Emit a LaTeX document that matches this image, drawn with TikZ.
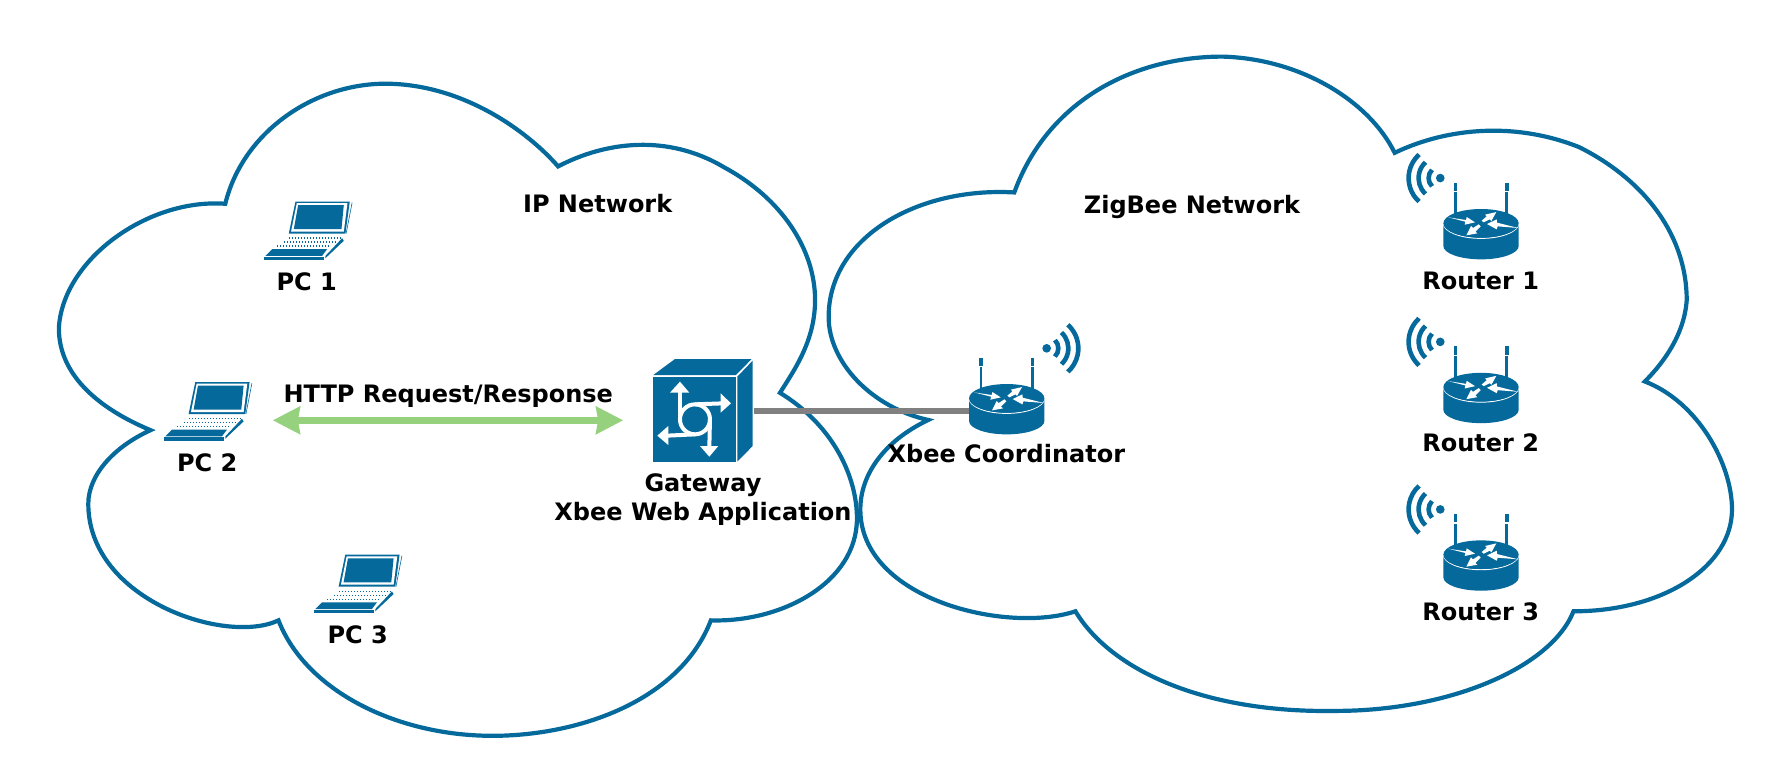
\documentclass[tikz,border=0pt]{standalone}
\usepackage{fontspec}
\setmainfont{DejaVu Sans}
\usetikzlibrary{arrows.meta,calc}
\definecolor{ciscoblue}{HTML}{056A9B}
\definecolor{linkgreen}{HTML}{96D17E}
\definecolor{linkgray}{HTML}{808080}
\tikzset{
  cloudline/.style={draw=ciscoblue,line width=2.1pt,line join=miter},
  lab/.style={font=\bfseries\fontsize{12}{13}\selectfont,text=black,inner sep=0pt,align=center},
  iconbox/.style={inner sep=0pt,outer sep=0pt},
  pic unit/.style={x=0.16667pt,y=-0.16667pt},
  whitearrow/.style={draw=white,line width=2pt},
  pics/laptop/.style={code={
    \begin{scope}[pic unit]
      \fill[ciscoblue] (0,0)--(163,0)--(150,96)--(-20,96)--cycle;
      \fill[white] (4,5)--(156,5)--(145,90)--(-13,90)--cycle;
      \fill[ciscoblue] (8,11)--(145,11)--(138,83)--(-5,83)--cycle;
      \draw[ciscoblue,line width=0.3pt] (170,3)--(152,96);
      \fill[ciscoblue] (-95,166)--(85,166)--(85,176)--(-95,176)--cycle;
      \fill[ciscoblue] (-90,163)--(-70,143)--(95,143)--(80,163)--cycle;
      \fill[ciscoblue] (90,170)--(145,118)--(140,110)--(90,163)--cycle;
      \foreach \yy/\xa/\xb in {110/-20/135,122/-35/122,134/-55/105}
        \draw[ciscoblue,line width=0.7pt,dash pattern=on 0.6pt off 0.9pt] (\xa,\yy)--(\xb,\yy);
    \end{scope}}},
  pics/router/.style={code={
    \begin{scope}[pic unit]
      \foreach \sx in {-77,77}{
        \fill[ciscoblue] (\sx-4,-93)rectangle(\sx+4,5);
        \fill[ciscoblue] (\sx-5.5,-122)rectangle(\sx+5.5,-97);
      }
      \fill[ciscoblue] (-113,0)--(-113,68) arc[start angle=180,end angle=0,x radius=113,y radius=40]--(113,0)--cycle;
      \draw[white,line width=0.5pt] (-113,0) arc[start angle=180,end angle=0,x radius=113,y radius=45];
      \fill[ciscoblue] (0,0) ellipse[x radius=113,y radius=43];
      \fill[white] (-98,-18)--(-45,-10)--(-43,-19)--(-18,-3)--(-49,4)--(-47,-5)--cycle;
      \fill[white] (2,-8)--(17,-21)--(12,-26)--(46,-34)--(31,-7)--(26,-12)--(8,-3)--cycle;
      \fill[white] (112,14)--(50,9)--(47,18)--(18,2)--(47,-12)--(48,-2)--cycle;
      \fill[white] (-1,9)--(-17,25)--(-11,30)--(-44,36)--(-30,8)--(-24,14)--(-7,3)--cycle;
    \end{scope}}},
  pics/wifileft/.style={code={
    \begin{scope}[pic unit]
      \fill[ciscoblue] (0,0) circle (13);
      \draw[ciscoblue,line width=2.3pt] (135:35) arc[start angle=135,end angle=225,radius=35];
      \draw[ciscoblue,line width=2.3pt] (133:65) arc[start angle=133,end angle=227,radius=65];
      \draw[ciscoblue,line width=2.3pt] (132:95) arc[start angle=132,end angle=228,radius=95];
    \end{scope}}},
  pics/wifiright/.style={code={
    \begin{scope}[pic unit]
      \fill[ciscoblue] (0,0) circle (13);
      \draw[ciscoblue,line width=2.3pt] (-45:35) arc[start angle=-45,end angle=45,radius=35];
      \draw[ciscoblue,line width=2.3pt] (-47:65) arc[start angle=-47,end angle=47,radius=65];
      \draw[ciscoblue,line width=2.3pt] (-48:95) arc[start angle=-48,end angle=48,radius=95];
    \end{scope}}},
}
\begin{document}
\begin{tikzpicture}[x=0.566pt,y=-0.566pt]
\useasboundingbox (0,0) rectangle (1568,685.5);
% left cloud
\draw[cloudline]
 (199,180) .. controls (215,115) and (280,72) .. (345,74)
 .. controls (410,76) and (465,115) .. (493,147)
 .. controls (535,125) and (590,118) .. (640,148)
 .. controls (690,175) and (720,220) .. (720,265)
 .. controls (720,300) and (703,325) .. (689,347)
 .. controls (735,375) and (757,420) .. (757,458)
 .. controls (757,515) and (690,550) .. (628,548)
 .. controls (600,620) and (510,650) .. (435,650)
 .. controls (350,650) and (270,610) .. (246,548)
 .. controls (200,570) and (78,530) .. (78,445)
 .. controls (78,420) and (100,395) .. (133,380)
 .. controls (85,360) and (52,330) .. (52,290)
 .. controls (55,230) and (130,175) .. (199,180) -- cycle;
% right cloud
\draw[cloudline]
 (896,170) .. controls (925,90) and (1000,50) .. (1080,50)
 .. controls (1150,52) and (1210,90) .. (1232,135)
 .. controls (1280,112) and (1340,108) .. (1395,130)
 .. controls (1455,160) and (1490,210) .. (1490,265)
 .. controls (1488,295) and (1470,320) .. (1453,337)
 .. controls (1500,355) and (1530,410) .. (1530,450)
 .. controls (1530,500) and (1470,540) .. (1390,540)
 .. controls (1370,590) and (1280,628) .. (1180,628)
 .. controls (1060,630) and (980,590) .. (950,540)
 .. controls (890,560) and (760,530) .. (760,450)
 .. controls (760,420) and (780,390) .. (820,371)
 .. controls (770,360) and (732,320) .. (732,280)
 .. controls (732,210) and (810,165) .. (896,170) -- cycle;

% laptops
\pic at (261,178) {laptop};
\pic at (172.5,337.5) {laptop};
\pic at (305,490) {laptop};
\node[iconbox,minimum width=55.5pt,minimum height=0pt] (pc2) at (192,371.3) {};

% gateway
\node[iconbox,fill=ciscoblue,minimum width=41.3pt,minimum height=42.5pt] (gw) at (613.5,370.5) {};
\begin{scope}[shift={(556.5,300.35)},pic unit]
  \fill[ciscoblue] (70,105)--(135,57)--(365,57)--(318,105)--cycle;
  \fill[ciscoblue] (322,110)--(368,62)--(368,318)--(322,365)--cycle;
  \draw[whitearrow] (195,238) circle (45);
  \draw[whitearrow] (150,150)--(150,238);
  \draw[whitearrow] (195,193)--(280,190);
  \draw[whitearrow] (240,238)--(238,325);
  \draw[whitearrow] (195,283)--(110,287);
  \fill[white] (150,125)--(120,158)--(178,158)--cycle;
  \fill[white] (303,190)--(272,160)--(272,218)--cycle;
  \fill[white] (238,350)--(210,318)--(265,318)--cycle;
  \fill[white] (82,287)--(115,258)--(115,315)--cycle;
\end{scope}

% routers
\node[iconbox,minimum width=37.7pt] (coord) at (889.3,351.9) {};
\pic at (coord.center) {router};
\pic at (924.6,307.7) {wifiright};
\foreach \yy/\nn in {197.3/r1,342/r2,490/r3}{
  \node[iconbox,minimum width=37.7pt] (\nn) at (1308.3,\yy) {};
  \pic at (\nn.center) {router};
  \pic at ($(\nn.center)+(-36,-40)$) {wifileft};
}

% connectors
\draw[linkgray,line width=3.3pt] ($(gw.east |- 0,363)+(16,0)$) -- (coord.west |- 0,363);
\draw[linkgreen,line width=3.3pt,shorten >=15pt,{Stealth[length=13.5pt,width=13.5pt,inset=1pt]}-{Stealth[length=13.5pt,width=13.5pt,inset=1pt]}] (pc2.east) -- (gw.west |- pc2.east);

% labels
\node[lab] (ip) at (528,180) {IP Network};
\node[lab] (zb) at (1053,183) {ZigBee Network};
\node[lab] (l1) at (271,249) {PC 1};
\node[lab] (l2) at (183,409) {PC 2};
\node[lab] (l3) at (316,561) {PC 3};
\node[lab] (http) at (396,350) {HTTP Request/Response};
\node[lab] (lgw) at (621,441.5) {Gateway\\[1.5pt]Xbee Web Application};
\node[lab] (lco) at (889,401) {Xbee Coordinator};
\node[lab] (lr1) at (1308,248) {Router 1};
\node[lab] (lr2) at (1308,391) {Router 2};
\node[lab] (lr3) at (1308,540) {Router 3};
\end{tikzpicture}
\end{document}
